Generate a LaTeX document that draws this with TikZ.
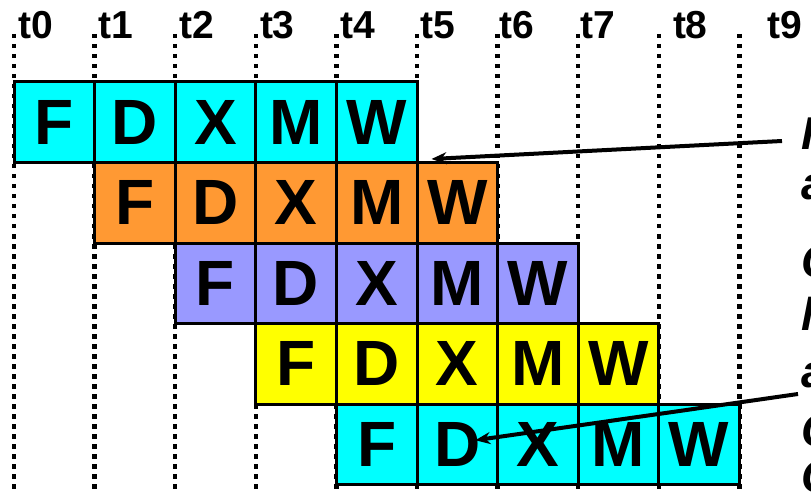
\documentclass[tikz,border=0pt]{standalone}
\usepackage{fontspec}
\setmainfont{Liberation Sans}
\usetikzlibrary{arrows.meta}
\definecolor{stagecyan}{RGB}{0,255,255}
\definecolor{stageorange}{RGB}{255,153,51}
\definecolor{stagelilac}{RGB}{153,153,255}
\definecolor{stageyellow}{RGB}{255,255,0}
\tikzset{
  cell/.style={draw, line width=3pt, minimum width=80.6pt, minimum height=80.5pt, inner sep=0pt,
    font=\fontsize{64}{64}\selectfont\bfseries},
  timeline/.style={line width=4.5pt, dash pattern=on 4.5pt off 5.5pt},
  tlabel/.style={anchor=base west, inner sep=0pt, font=\fontsize{39}{39}\selectfont\bfseries},
  note/.style={anchor=base west, inner sep=0pt, font=\fontsize{46}{46}\selectfont\bfseries\itshape},
  pointer/.style={line width=4pt, -{Stealth[length=15pt,width=12pt]}}
}
\begin{document}
\begin{tikzpicture}[x=1pt, y=-1pt, line join=miter]
	\def\xo{14}
	\def\yo{82}
	\def\cw{80.6}
	\def\ch{80.5}
	\useasboundingbox (0,0) rectangle (811,497);
	\foreach \i in {0,...,9}
		\draw[timeline] ({\xo+\cw*\i},34) -- ({\xo+\cw*\i},490);
	\foreach \i/\dx in {0/4,1/4,2/4,3/4,4/4,5/3,6/2,7/2,8/14,9/28}
		\node[tlabel] (t\i) at ({\xo+\cw*\i+\dx},39) {t\i};
	\foreach \r/\col in {0/stagecyan,1/stageorange,2/stagelilac,3/stageyellow,4/stagecyan}
		\foreach \s [count=\k from 0] in {F,D,X,M,W}
			\node[cell, fill=\col] (c-\r-\k) at ({\xo+\cw*(\r+\k)+\cw/2},{\yo+\ch*\r+\ch/2}) {\s};
	\foreach \txt/\yb [count=\n] in {I/150,a/200,C/277,l/330,a/387,C/446,C/492}
		\node[note] (n\n) at (801,\yb) {\txt};
	\coordinate (srcA) at (782,141);
	\coordinate (srcB) at (798,394);
	\draw[pointer] (srcA) -- ([xshift=13pt,yshift=5pt]c-0-4.south east);
	\draw[pointer] (srcB) -- ([xshift=18pt,yshift=4pt]c-4-1.center);
\end{tikzpicture}
\end{document}
